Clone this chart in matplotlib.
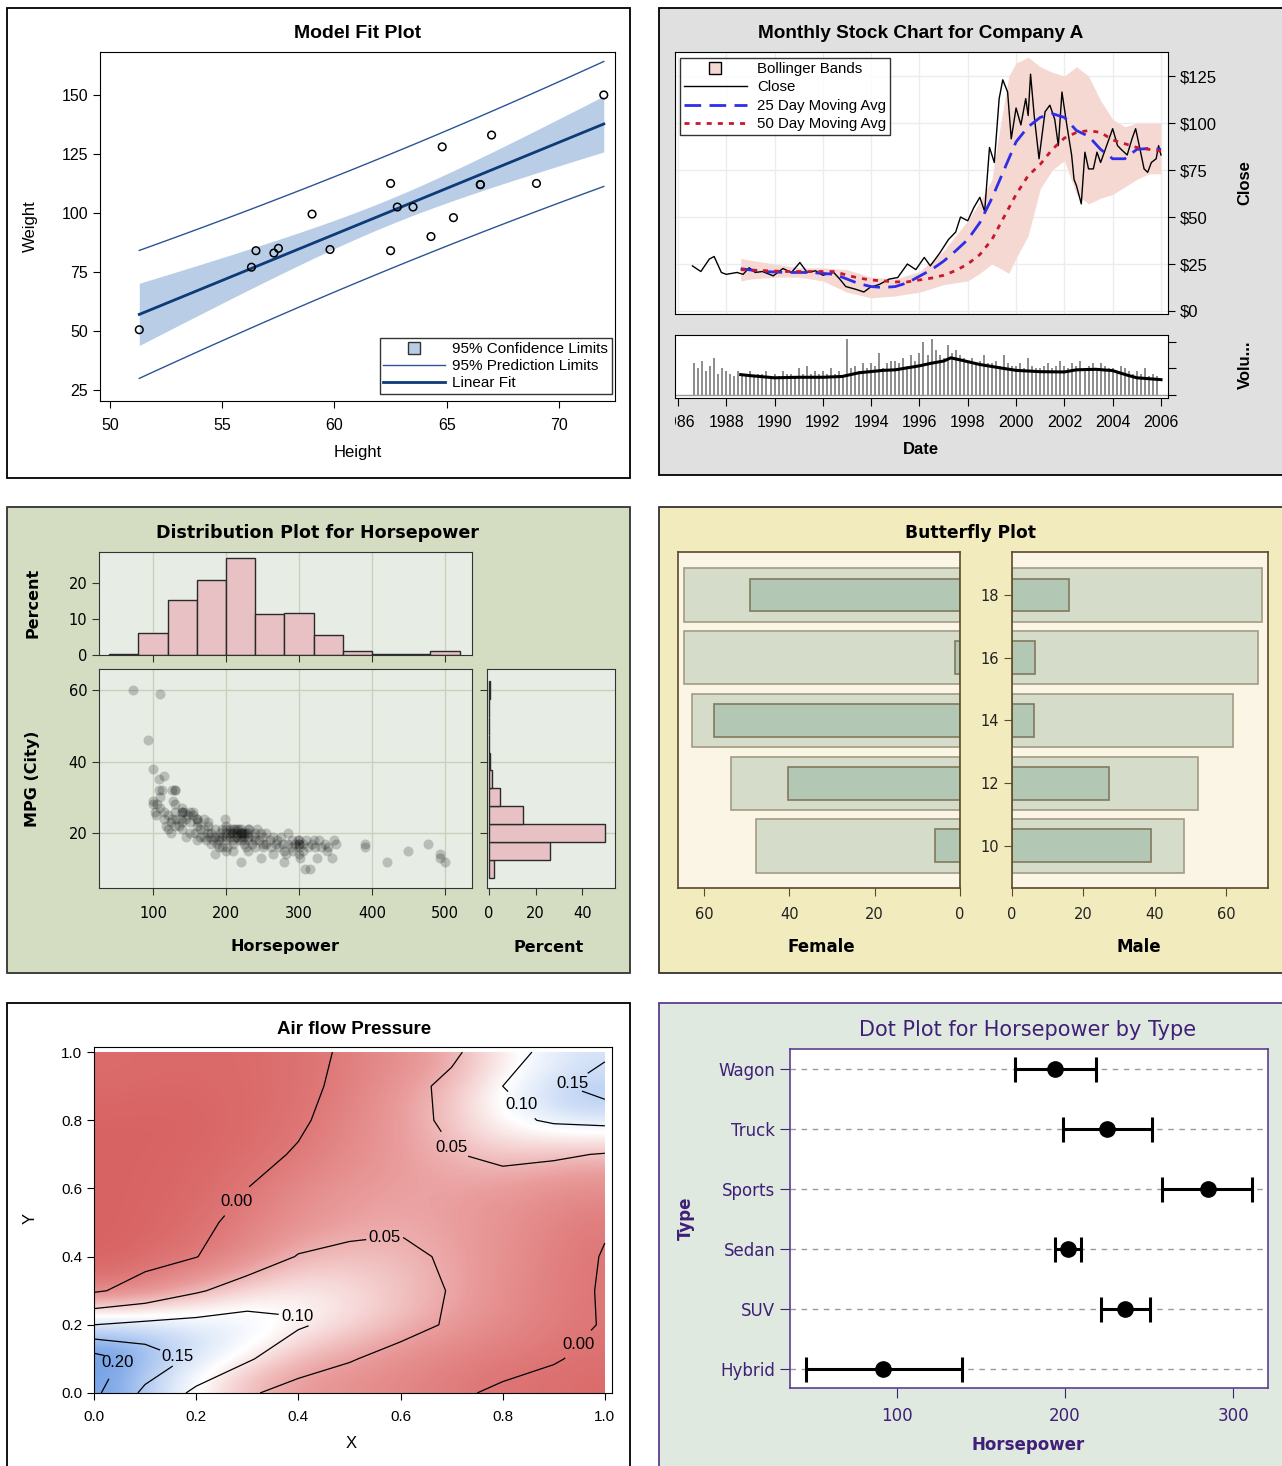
import numpy as np
import matplotlib
matplotlib.use('Agg')
import matplotlib.pyplot as plt
from matplotlib.patches import Rectangle
from matplotlib.lines import Line2D
from matplotlib.colors import LinearSegmentedColormap, TwoSlopeNorm
from matplotlib.ticker import FormatStrFormatter
from matplotlib.transforms import Bbox, TransformedBbox

# ---------------- data ----------------
# Model fit (height / weight)
heights = [69.0, 56.5, 65.3, 62.8, 63.5, 57.3, 59.8, 62.5, 62.5, 59.0,
           51.3, 64.3, 56.3, 66.5, 72.0, 64.8, 67.0, 57.5, 66.5]
weights = [112.5, 84.0, 98.0, 102.5, 102.5, 83.0, 84.5, 112.5, 84.0, 99.5,
           50.5, 90.0, 77.0, 112.0, 150.0, 128.0, 133.0, 85.0, 112.0]
t_975 = 2.1098  # t quantile, 17 df

# Stock chart
close_dates = [1986.6, 1986.95, 1987.3, 1987.5, 1987.8, 1988.0, 1988.45, 1988.7, 1988.95, 1989.2,
               1989.5, 1989.95, 1990.35, 1990.7, 1991.05, 1991.35, 1991.7, 1992.0, 1992.45, 1992.7,
               1992.95, 1993.35, 1993.7, 1993.95, 1994.35, 1994.75, 1995.1, 1995.5, 1995.85, 1996.2,
               1996.45, 1996.85, 1997.2, 1997.5, 1997.7, 1998.0, 1998.25, 1998.5, 1998.7, 1998.9,
               1999.1, 1999.3, 1999.45, 1999.65, 1999.8, 2000.0, 2000.2, 2000.4, 2000.5, 2000.6,
               2000.75, 2000.95, 2001.2, 2001.4, 2001.6, 2001.75, 2001.9, 2002.1, 2002.3, 2002.4,
               2002.5, 2002.7, 2002.85, 2003.0, 2003.2, 2003.35, 2003.5, 2003.75, 2004.0, 2004.2,
               2004.35, 2004.6, 2004.8, 2004.95, 2005.1, 2005.3, 2005.45, 2005.6, 2005.8, 2005.9, 2006.0]
close_vals = [24, 21, 27.6, 29, 20.5, 19.5, 20.5, 19.5, 23, 20.5,
              21, 18.7, 22.6, 20.5, 25.8, 20.5, 21.4, 19, 20.5, 17,
              13, 11.6, 10.1, 12.5, 14.2, 17, 17.8, 25, 22, 28.5,
              24, 31, 38, 42, 50, 48, 55, 60.5, 53, 87,
              79, 113, 123, 116.5, 91.6, 108, 99, 113, 104, 126,
              104, 81, 106, 109.5, 102, 88, 116.5, 99, 83, 70,
              66.7, 57, 84.5, 75.6, 75.6, 84.5, 79, 88, 97, 88,
              86, 83, 91.6, 97, 88, 75.6, 73.8, 79, 81, 88, 83]
ma_dates = [1988.6, 1989.5, 1990.5, 1991.5, 1992.5, 1993.0, 1993.5, 1994.0, 1994.5, 1995.0,
            1995.5, 1996.0, 1996.5, 1997.0, 1997.5, 1998.0, 1998.5, 1999.0, 1999.5, 2000.0,
            2000.5, 2001.0, 2001.5, 2002.0, 2002.5, 2003.0, 2003.5, 2004.0, 2004.5, 2005.0,
            2005.5, 2006.0]
ma25_vals = [22.5, 21, 20.5, 20.5, 19.5, 17, 14.5, 13, 12.5, 13,
             15, 18.5, 22, 26.5, 32, 38, 47, 60, 75, 90,
             98, 103, 105, 103, 96, 93, 86, 81, 81, 86,
             86.5, 86]
ma50_vals = [22, 21.5, 21, 21, 21, 19, 17.5, 16.5, 16, 15.5,
             15.5, 16.5, 17.5, 19, 21.5, 25, 30, 38, 50, 62,
             72, 78, 86, 92, 95, 96, 95, 91, 89, 87,
             86, 85]
bb_dates = [1988.6, 1989, 1990, 1991, 1992, 1993, 1994, 1995, 1996, 1997,
            1998, 1998.5, 1999, 1999.3, 1999.7, 2000, 2000.5, 2001, 2001.5, 2002,
            2002.5, 2003, 2003.5, 2004, 2004.5, 2005, 2005.5, 2006]
bb_upper = [28, 27, 25, 23, 23, 22, 18, 17, 21, 32,
            48, 58, 70, 95, 125, 132, 135, 130, 127, 125,
            130, 125, 112, 102, 98, 100, 100, 100]
bb_lower = [16, 17, 18, 18, 16, 10, 7, 8, 10, 14,
            16, 20, 25, 23, 20, 28, 40, 65, 75, 80,
            62, 57, 60, 62, 66, 70, 73, 73]
vol_start = 1986.667
volume = [12, 10,
          13, 9, 11, 14, 8, 10,
          9, 8, 7, 9, 8, 7,
          9, 7, 8, 8, 9, 7,
          8, 7, 9, 8, 8, 7,
          10, 8, 11, 8, 9, 8,
          9, 8, 10, 8, 9, 7,
          21, 10, 11, 9, 12, 10,
          12, 11, 16, 10, 12, 13,
          13, 12, 14, 11, 15, 13,
          16, 20, 15, 21, 17, 15,
          14, 19, 16, 17, 15, 14,
          13, 14, 12, 13, 15, 12,
          12, 13, 11, 15, 12, 11,
          11, 12, 10, 14, 11, 10,
          10, 11, 12, 10, 11, 13,
          11, 10, 12, 11, 13, 10,
          11, 12, 10, 12, 11, 10,
          10, 9, 11, 10, 9, 8,
          9, 8, 10, 7, 8, 7]
vol_ma_dates = [1988.6, 1989, 1990, 1991, 1992, 1992.8, 1993.5, 1994.5, 1995, 1996,
                1996.5, 1997, 1997.3, 1997.8, 1998.5, 1999.5, 2000, 2001, 2002, 2002.5,
                2003.3, 2004, 2004.6, 2005, 2006]
vol_ma = [7.7, 7.3, 6.5, 6.7, 6.7, 7.0, 8.4, 9.3, 9.5, 11.0,
          12.0, 12.8, 14.0, 13.0, 11.5, 10.0, 9.3, 8.8, 8.7, 9.5,
          9.7, 9.2, 7.5, 6.5, 5.8]
years = list(range(1986, 2007, 2))
price_ticks = [0, 25, 50, 75, 100, 125]

# Distribution plot
hp_bins = [60, 100, 140, 180, 220, 260, 300, 340, 380, 420, 460, 500]
hp_pct = [0.4, 6.2, 15.3, 20.8, 27.0, 11.4, 11.8, 5.6, 1.1, 0.23, 0.23, 1.1]
mpg_bins = [10, 15, 20, 25, 30, 35, 40, 45, 50, 55, 60]
mpg_pct = [2.2, 26.2, 49.7, 14.5, 4.7, 1.4, 0.23, 0, 0, 0, 0.47]
car_points = np.array([
    (73, 60), (110, 59), (93, 46), (100, 38), (108, 35), (115, 36), (100, 29), (100, 28), (103, 26),
    (104, 25), (108, 32), (112, 32), (110, 27), (115, 26), (126, 32), (130, 32), (130, 32), (130, 28),
    (128, 29), (115, 24), (118, 22), (120, 25), (125, 23), (126, 24), (130, 22), (132, 24), (140, 27),
    (140, 26), (142, 26), (140, 26), (138, 24), (145, 24), (140, 21), (148, 25), (150, 26), (155, 25),
    (155, 26), (160, 24), (160, 24), (160, 22), (158, 20), (162, 23), (165, 21), (165, 19), (170, 21),
    (170, 24), (172, 18), (175, 20), (175, 22), (175, 23), (178, 19), (180, 20), (182, 18), (185, 21),
    (185, 19), (188, 17), (190, 16), (190, 18), (190, 19), (192, 20), (195, 21), (195, 19), (198, 24),
    (200, 22), (200, 21), (200, 20), (200, 18), (200, 19), (202, 16), (205, 21), (205, 19), (205, 20),
    (208, 20), (210, 20), (210, 18), (210, 17), (210, 21), (212, 21), (212, 19), (215, 20), (215, 19),
    (215, 21), (218, 18), (218, 21), (220, 21), (220, 20), (220, 19), (220, 20), (222, 18), (222, 20),
    (225, 20), (225, 17), (225, 19), (228, 16), (228, 20), (230, 20), (230, 19), (230, 18), (230, 21),
    (232, 21), (235, 17), (238, 19), (240, 18), (240, 20), (240, 16), (242, 21), (245, 18), (248, 20),
    (250, 19), (250, 17), (255, 17), (255, 20), (260, 18), (262, 16), (265, 19), (268, 17), (270, 18),
    (272, 16), (275, 19), (278, 17), (280, 15), (282, 14), (285, 20), (285, 17), (290, 18), (290, 16),
    (292, 15), (295, 17), (298, 18), (300, 18), (300, 17), (300, 16), (300, 14), (302, 13), (305, 15),
    (305, 17), (300, 17), (310, 18), (312, 16), (315, 10), (308, 10), (318, 17), (320, 18), (322, 16),
    (325, 13), (328, 18), (330, 16), (335, 17), (338, 15), (340, 16), (345, 13), (348, 18), (350, 17),
    (390, 17), (390, 16), (420, 12), (450, 15), (477, 17), (493, 14), (493, 13), (500, 12), (220, 12),
    (248, 13), (185, 14), (210, 15), (200, 15), (180, 17), (150, 20), (135, 22), (145, 19), (125, 20),
    (120, 21), (265, 14), (280, 12), (230, 15), (250, 16), (195, 16), (170, 19), (160, 18), (130, 26),
    (140, 23), (150, 23), (110, 30), (105, 28)])

# Butterfly plot
ages = [18, 16, 14, 12, 10]
female_total = [64.7, 64.7, 62.8, 53.7, 47.8]
female_part = [49.2, 1.2, 57.7, 40.3, 5.9]
male_total = [70.0, 68.9, 61.9, 52.1, 48.2]
male_part = [16.0, 6.4, 6.2, 27.2, 38.9]

# Air flow pressure grid (rows: Y = 0.0 .. 1.0, cols: X = 0.0 .. 1.0)
grid_x = [0.0, 0.1, 0.2, 0.3, 0.4, 0.5, 0.6, 0.7, 0.8, 0.9, 1.0]
grid_y = [0.0, 0.1, 0.2, 0.3, 0.4, 0.5, 0.6, 0.7, 0.8, 0.9, 1.0]
pressure = np.array([
    [0.21, 0.14, 0.09, 0.055, 0.035, 0.025, 0.015, 0.005, -0.005, -0.01, -0.015],
    [0.22, 0.18, 0.14, 0.105, 0.07, 0.053, 0.035, 0.02, 0.01, 0.002, -0.008],
    [0.10, 0.11, 0.115, 0.12, 0.105, 0.085, 0.065, 0.045, 0.025, 0.01, -0.002],
    [-0.005, 0.015, 0.045, 0.07, 0.085, 0.08, 0.065, 0.048, 0.03, 0.012, -0.003],
    [-0.025, -0.012, -0.001, 0.025, 0.052, 0.058, 0.058, 0.045, 0.03, 0.015, -0.002],
    [-0.025, -0.02, -0.008, 0.01, 0.028, 0.04, 0.045, 0.04, 0.03, 0.018, 0.003],
    [-0.025, -0.022, -0.015, 0.0, 0.02, 0.033, 0.04, 0.04, 0.035, 0.028, 0.02],
    [-0.025, -0.023, -0.018, -0.01, 0.003, 0.02, 0.035, 0.048, 0.058, 0.055, 0.048],
    [-0.025, -0.025, -0.022, -0.015, -0.005, 0.015, 0.035, 0.058, 0.09, 0.105, 0.11],
    [-0.02, -0.022, -0.02, -0.016, -0.008, 0.008, 0.035, 0.06, 0.10, 0.14, 0.175],
    [-0.015, -0.018, -0.018, -0.015, -0.01, 0.005, 0.022, 0.042, 0.08, 0.115, 0.14]])
contour_levels = [0.0, 0.05, 0.10, 0.15, 0.20]

# Dot plot
car_types = ['Hybrid', 'SUV', 'Sedan', 'Sports', 'Truck', 'Wagon']
hp_mean = [91.7, 235.7, 201.8, 285.1, 225.0, 194.0]
hp_low = [45.8, 221.4, 194.0, 257.7, 198.8, 170.2]
hp_high = [138.7, 250.6, 209.5, 311.3, 251.8, 218.5]

# ---------------- figure ----------------
plt.rcParams['font.family'] = ['Liberation Sans', 'DejaVu Sans']
W, H = 1282, 1466
fig = plt.figure(figsize=(W / 100, H / 100), dpi=100)
fig.patch.set_facecolor('white')


def add_ax(x0, y0, x1, y1):
    return fig.add_axes([x0 / W, 1 - y1 / H, (x1 - x0) / W, (y1 - y0) / H])


def panel(x0, y0, x1, y1, fc, ec):
    fig.add_artist(Rectangle((x0 / W, 1 - y1 / H), (x1 - x0) / W, (y1 - y0) / H,
                             transform=fig.transFigure, facecolor=fc, edgecolor=ec,
                             lw=1.3, zorder=-10))


def txt(x, y, s, **kw):
    fig.text(x / W, 1 - y / H, s, ha='center', va='center', **kw)


sans2 = ['DejaVu Sans']

# ---- 1. Model fit plot ----
panel(7, 8, 630, 478, 'white', 'black')
txt(358, 34, 'Model Fit Plot', fontsize=14, fontweight='bold')
ax = add_ax(100, 52, 615, 401)
h = np.array(heights)
w = np.array(weights)
b1, b0 = np.polyfit(h, w, 1)
n = len(h)
s = np.sqrt(np.sum((w - (b0 + b1 * h)) ** 2) / (n - 2))
sxx = np.sum((h - h.mean()) ** 2)
xs = np.linspace(h.min(), h.max(), 120)
fit = b0 + b1 * xs
ci = t_975 * s * np.sqrt(1 / n + (xs - h.mean()) ** 2 / sxx)
pi = t_975 * s * np.sqrt(1 + 1 / n + (xs - h.mean()) ** 2 / sxx)
ax.fill_between(xs, fit - ci, fit + ci, color='#b9cde6', lw=0)
ax.plot(xs, fit - pi, color='#2b5597', lw=1)
ax.plot(xs, fit + pi, color='#2b5597', lw=1)
ax.plot(xs, fit, color='#0d3a78', lw=2)
ax.scatter(h, w, s=30, facecolors='none', edgecolors='black', linewidths=1.1, zorder=5)
ax.set_xlim(49.55, 72.5)
ax.set_ylim(20.3, 168.2)
ax.set_xticks([50, 55, 60, 65, 70])
ax.set_yticks([25, 50, 75, 100, 125, 150])
ax.tick_params(direction='out', length=5, labelsize=11.5)
ax.tick_params(axis='x', pad=7)
txt(358, 452, 'Height', fontsize=12)
txt(30, 226, 'Weight', fontsize=12, rotation=90)
handles = [Line2D([], [], marker='s', ls='none', markerfacecolor='#b9cde6', markeredgecolor='#333333',
                  markersize=8),
           Line2D([], [], color='#2b5597', lw=1),
           Line2D([], [], color='#0d3a78', lw=2)]
leg = ax.legend(handles, ['95% Confidence Limits', '95% Prediction Limits', 'Linear Fit'],
                loc='lower right', bbox_to_anchor=(0.994, 0.02), fontsize=11, fancybox=False,
                edgecolor='black', handlelength=4.0, borderpad=0.25, labelspacing=0.2,
                handletextpad=0.5, borderaxespad=0)
leg.get_frame().set_linewidth(1)

# ---- 2. Stock chart ----
panel(659, 8, 1295, 475, '#e0e0e0', 'black')
txt(921, 34, 'Monthly Stock Chart for Company A', fontsize=13.7, fontweight='bold')
ax = add_ax(675, 52, 1168, 314)
ax.fill_between(bb_dates, bb_lower, bb_upper, color='#f6d8d3', lw=0, zorder=1)
ax.plot(close_dates, close_vals, color='black', lw=1, zorder=3)
ax.plot(ma_dates, ma25_vals, color='#2e2ee8', lw=2, dashes=(6, 3), zorder=4)
ax.plot(ma_dates, ma50_vals, color='#c81830', lw=2, dashes=(1.8, 2.2), zorder=4)
ax.set_xlim(1985.88, 2006.29)
ax.set_ylim(-1.6, 137.8)
ax.set_xticks(years)
ax.tick_params(axis='x', length=0, labelbottom=False)
ax.yaxis.tick_right()
ax.set_yticks(price_ticks)
ax.set_yticklabels(['$%d' % v for v in price_ticks])
ax.tick_params(axis='y', direction='out', length=5, labelsize=12)
ax.grid(True, color='#ececec', lw=1)
ax.set_axisbelow(True)
handles = [Line2D([], [], marker='s', ls='none', markerfacecolor='#f6d8d3', markeredgecolor='black',
                  markersize=8),
           Line2D([], [], color='black', lw=1),
           Line2D([], [], color='#2e2ee8', lw=2, dashes=(6, 3)),
           Line2D([], [], color='#c81830', lw=2, dashes=(1.8, 2.2))]
leg = ax.legend(handles, ['Bollinger Bands', 'Close', '25 Day Moving Avg', '50 Day Moving Avg'],
                loc='upper left', bbox_to_anchor=(0.01, 0.977), fontsize=10.8, fancybox=False,
                edgecolor='black', handlelength=4.2, borderpad=0.25, labelspacing=0.3,
                handletextpad=0.7, borderaxespad=0)
leg.get_frame().set_linewidth(1)
txt(1245, 183, 'Close', fontsize=12, fontweight='bold', rotation=90)

axv = add_ax(675, 335, 1168, 398)
vol_dates = vol_start + np.arange(len(volume)) / 6
axv.vlines(vol_dates, 0, volume, color='#8c8c8c', lw=1.4)
axv.plot(vol_ma_dates, vol_ma, color='black', lw=2.2)
axv.axhline(0, color='#9a9a9a', lw=1)
axv.set_xlim(1985.88, 2006.29)
axv.set_ylim(-1.1, 22.6)
axv.yaxis.tick_right()
axv.set_yticks([0, 10, 20])
axv.set_yticklabels([])
axv.set_xticks(years)
axv.set_xticklabels([str(y) for y in years])
axv.tick_params(direction='out', length=6, labelsize=11.5, pad=6)
clip = TransformedBbox(Bbox([[675 / W, 0], [1, 1]]), fig.transFigure)
for lbl in axv.get_xticklabels():
    lbl.set_clip_on(True)
    lbl.set_clip_box(clip)
txt(1245, 365, 'Volu...', fontsize=12, fontweight='bold', rotation=90)
txt(921, 449, 'Date', fontsize=12, fontweight='bold')

# ---- 3. Distribution plot ----
green_bg = '#e7ede5'
grid_c = '#c9d1bd'
panel(7, 507, 630, 973, '#d4dcc2', '#333333')
txt(318, 533, 'Distribution Plot for Horsepower', fontsize=12.6, fontweight='bold', family=sans2)

axm = add_ax(99, 669, 472, 888)
axm.set_facecolor(green_bg)
axm.scatter(car_points[:, 0], car_points[:, 1], s=52, color='black', alpha=0.2, lw=0)
axm.set_xlim(26, 537)
axm.set_ylim(4.6, 65.9)
axm.set_xticks([100, 200, 300, 400, 500])
axm.set_yticks([20, 40, 60])
axm.grid(True, color=grid_c, lw=1)
axm.set_axisbelow(True)

axt = add_ax(99, 552, 472, 655)
axt.set_facecolor(green_bg)
axt.bar(hp_bins, hp_pct, width=40, color='#e8c1c4', edgecolor='#2a2a2a', lw=1)
axt.set_xlim(26, 537)
axt.set_ylim(0, 28.6)
axt.set_xticks([100, 200, 300, 400, 500])
axt.set_yticks([0, 10, 20])
axt.tick_params(axis='x', length=0, labelbottom=False)
axt.grid(True, axis='x', color=grid_c, lw=1)
axt.set_axisbelow(True)

axr = add_ax(487, 669, 615, 888)
axr.set_facecolor(green_bg)
axr.barh(mpg_bins, mpg_pct, height=5, color='#e8c1c4', edgecolor='#2a2a2a', lw=1)
axr.set_ylim(4.6, 65.9)
axr.set_xlim(-0.9, 54)
axr.set_xticks([0, 20, 40])
axr.set_yticks([20, 40, 60])
axr.tick_params(axis='y', length=0, labelleft=False)
axr.grid(True, axis='y', color=grid_c, lw=1)
axr.set_axisbelow(True)

for a in (axm, axt, axr):
    a.tick_params(direction='out', length=5, labelsize=10.5, color='#333333')
    a.tick_params(axis='x', pad=8)
    for lab in a.get_xticklabels() + a.get_yticklabels():
        lab.set_family(sans2)
    for sp in a.spines.values():
        sp.set_color('#333333')
txt(33, 603, 'Percent', fontsize=11.5, fontweight='bold', rotation=90, family=sans2)
txt(33, 779, 'MPG (City)', fontsize=11.5, fontweight='bold', rotation=90, family=sans2)
txt(285, 947, 'Horsepower', fontsize=11.5, fontweight='bold', family=sans2)
txt(549, 947, 'Percent', fontsize=11.5, fontweight='bold', family=sans2)

# ---- 4. Butterfly plot ----
brown = '#5b4a2c'
panel(659, 507, 1295, 973, '#f2ebbe', '#333333')
txt(971, 533, 'Butterfly Plot', fontsize=12.3, fontweight='bold', family=sans2)
axl = add_ax(678, 552, 960, 888)
axb = add_ax(1012, 552, 1268, 888)
axl.barh(ages, female_total, height=1.7, color='#d5dcc9', edgecolor='#a39c82', lw=1.2)
axl.barh(ages, female_part, height=1.05, color='#b2c7b4', edgecolor='#817a5e', lw=1.2)
axb.barh(ages, male_total, height=1.7, color='#d5dcc9', edgecolor='#a39c82', lw=1.2)
axb.barh(ages, male_part, height=1.05, color='#b2c7b4', edgecolor='#817a5e', lw=1.2)
axl.set_xlim(66.1, 0)
axb.set_xlim(0, 71.8)
for a in (axl, axb):
    a.set_facecolor('#fbf5e6')
    a.set_ylim(8.66, 19.37)
    a.set_xticks([0, 20, 40, 60])
    a.tick_params(direction='out', length=6, labelsize=10.5, color=brown, labelcolor='#222222')
    a.tick_params(axis='x', pad=8)
    for lab in a.get_xticklabels() + a.get_yticklabels():
        lab.set_family(sans2)
    for sp in a.spines.values():
        sp.set_color(brown)
        sp.set_linewidth(1.2)
axl.set_yticks([])
axb.set_yticks(ages)
axb.set_yticklabels([str(a) for a in ages], family=sans2)
txt(821, 947, 'Female', fontsize=12, fontweight='bold', family=sans2)
txt(1139, 947, 'Male', fontsize=12, fontweight='bold', family=sans2)

# ---- 5. Air flow contour ----
panel(7, 1003, 630, 1480, 'white', 'black')
txt(354, 1029, 'Air flow Pressure', fontsize=13.5, fontweight='bold')
ax = add_ax(94, 1047, 612, 1393)
cmap = LinearSegmentedColormap.from_list('rwb', ['#d65a5a', '#e99a9a', '#ffffff', '#a9c5f0', '#3f7ddb'])
norm = TwoSlopeNorm(vmin=-0.035, vcenter=0.105, vmax=0.25)
ax.imshow(pressure, origin='lower', extent=(0, 1, 0, 1), cmap=cmap, norm=norm,
          interpolation='bicubic', aspect='auto')
cs = ax.contour(grid_x, grid_y, pressure, levels=contour_levels, colors='black', linewidths=0.9)
clabels = ax.clabel(cs, fmt='%.2f', fontsize=12, inline=True, inline_spacing=3,
                    manual=[(0.29, 0.55), (0.57, 0.45), (0.40, 0.25), (0.17, 0.13), (0.06, 0.08),
                            (0.70, 0.72), (0.82, 0.82), (0.93, 0.92), (0.95, 0.14)])
for t in clabels:
    t.set_rotation(0)
ax.set_xlim(0, 1.014)
ax.set_ylim(0, 1.015)
ax.set_xticks([0, 0.2, 0.4, 0.6, 0.8, 1.0])
ax.set_yticks([0, 0.2, 0.4, 0.6, 0.8, 1.0])
ax.xaxis.set_major_formatter(FormatStrFormatter('%.1f'))
ax.yaxis.set_major_formatter(FormatStrFormatter('%.1f'))
ax.tick_params(direction='out', length=5, labelsize=11)
ax.tick_params(axis='x', pad=7)
txt(351, 1443, 'X', fontsize=12)
txt(30, 1218, 'Y', fontsize=12, rotation=90)

# ---- 6. Dot plot ----
purple = '#3f1f77'
panel(659, 1003, 1295, 1480, '#dfe9df', '#5b3f8f')
txt(1028, 1030, 'Dot Plot for Horsepower by Type', fontsize=15, color=purple, family=sans2)
ax = add_ax(790, 1049, 1268, 1388)
ypos = np.arange(len(car_types))
for y in ypos:
    ax.axhline(y, color='#9a9a9a', lw=1, dashes=(4, 4), zorder=0)
means = np.array(hp_mean)
ax.errorbar(means, ypos, xerr=[means - np.array(hp_low), np.array(hp_high) - means], fmt='o',
            color='black', ms=11, elinewidth=2.2, capsize=9, capthick=2.2, zorder=3)
ax.set_xlim(36.3, 320.8)
ax.set_ylim(-0.317, 5.333)
ax.set_yticks(ypos)
ax.set_yticklabels(car_types)
ax.set_xticks([100, 200, 300])
ax.tick_params(direction='out', length=7, labelsize=12, color=purple, labelcolor=purple)
ax.tick_params(axis='x', pad=7)
for lab in ax.get_xticklabels() + ax.get_yticklabels():
    lab.set_family(sans2)
for sp in ax.spines.values():
    sp.set_color('#5b3f8f')
    sp.set_linewidth(1.2)
txt(686, 1218, 'Type', fontsize=12, fontweight='bold', rotation=90, color=purple, family=sans2)
txt(1028, 1445, 'Horsepower', fontsize=12, fontweight='bold', color=purple, family=sans2)

fig.savefig('out.png', dpi=100)
